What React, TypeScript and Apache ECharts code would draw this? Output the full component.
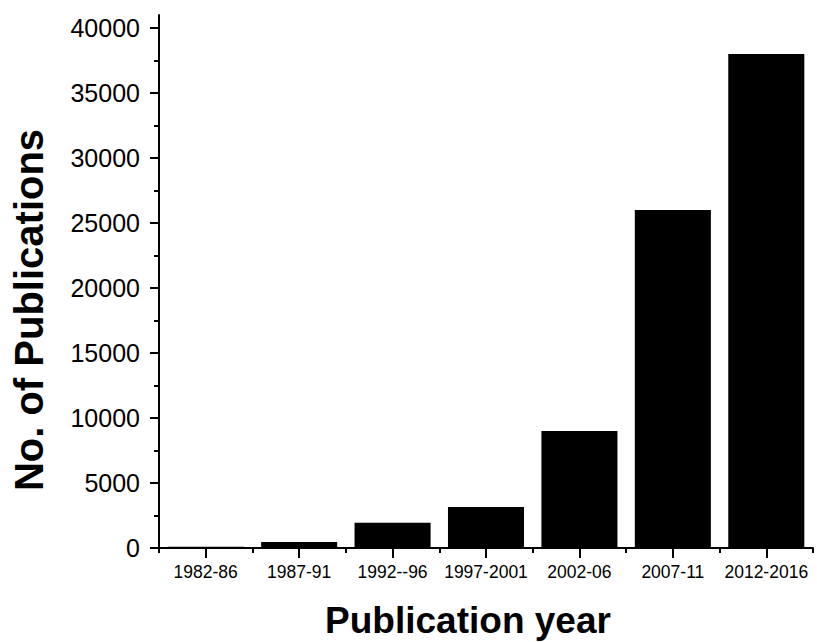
import React, { useEffect, useRef } from "react";
import * as echarts from "echarts";

const categories = ["1982-86", "1987-91", "1992--96", "1997-2001", "2002-06", "2007-11", "2012-2016"];
const publications = [100, 470, 1950, 3150, 9000, 26000, 38000];
const majorTicks = [0, 5000, 10000, 15000, 20000, 25000, 30000, 35000, 40000];
const minorTicks = [2500, 7500, 12500, 17500, 22500, 27500, 32500, 37500];
const xTitle = "Publication year";
const yTitle = "No. of Publications";

export default function App() {
  const ref = useRef<HTMLDivElement>(null);
  useEffect(() => {
    if (!ref.current) return;
    const chart = echarts.init(ref.current, undefined, { renderer: "svg" });
    const font = "'Liberation Sans', Arial, sans-serif";
    chart.setOption({
      animation: false,
      backgroundColor: "#ffffff",
      grid: { left: 159, right: 4, top: 15, bottom: 94, containLabel: false },
      xAxis: [
        {
          type: "category",
          data: categories,
          boundaryGap: true,
          axisLine: { show: true, lineStyle: { color: "#000", width: 2 } },
          axisTick: { show: true, alignWithLabel: true, length: 10, lineStyle: { color: "#000", width: 2 } },
          axisLabel: { color: "#000", fontSize: 17.5, fontFamily: font, margin: 15, interval: 0 },
          splitLine: { show: false },
        },
        {
          type: "category",
          data: categories,
          position: "bottom",
          boundaryGap: true,
          axisLine: { show: false },
          axisTick: { show: true, length: 5, lineStyle: { color: "#000", width: 2 } },
          axisLabel: { show: false },
          splitLine: { show: false },
        },
      ],
      yAxis: [
        {
          type: "value",
          min: 0,
          max: 41000,
          interval: 5000,
          axisLine: { show: true, lineStyle: { color: "#000", width: 2 } },
          axisTick: { show: true, length: 9, customValues: majorTicks, lineStyle: { color: "#000", width: 2 } },
          axisLabel: {
            color: "#000",
            fontSize: 25,
            fontFamily: font,
            margin: 19,
            customValues: majorTicks,
            formatter: (v: number) => String(v),
          },
          splitLine: { show: false },
        },
        {
          type: "value",
          min: 0,
          max: 41000,
          position: "left",
          axisLine: { show: false },
          axisTick: { show: true, length: 5, customValues: minorTicks, lineStyle: { color: "#000", width: 2 } },
          axisLabel: { show: false },
          splitLine: { show: false },
        },
      ],
      series: [
        {
          type: "bar",
          data: publications,
          xAxisIndex: 0,
          yAxisIndex: 0,
          barCategoryGap: "18.6%",
          itemStyle: { color: "#000" },
        },
      ],
      graphic: [
        {
          type: "text",
          x: 468,
          y: 620,
          style: {
            text: xTitle,
            font: `bold 37px ${font}`,
            fill: "#000",
            align: "center",
            verticalAlign: "middle",
          },
        },
        {
          type: "text",
          x: 29,
          y: 310,
          rotation: Math.PI / 2,
          style: {
            text: yTitle,
            font: `bold 40px ${font}`,
            fill: "#000",
            align: "center",
            verticalAlign: "middle",
          },
        },
      ],
    });
    return () => chart.dispose();
  }, []);
  return <div ref={ref} style={{ position: "fixed", left: 0, top: 0, width: 817, height: 642 }} />;
}
